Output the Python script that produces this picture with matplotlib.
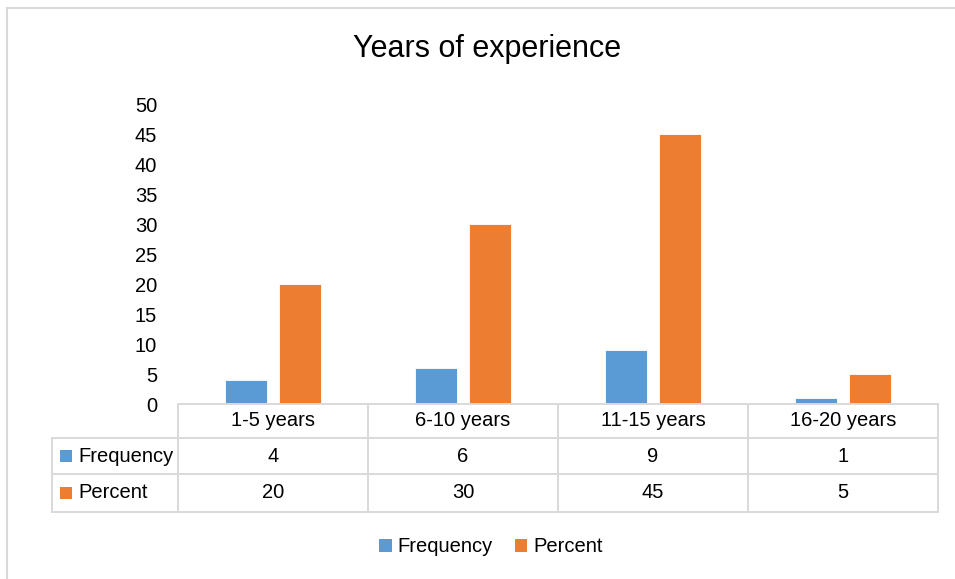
import matplotlib
matplotlib.use('Agg')
import matplotlib.pyplot as plt
from matplotlib.patches import Rectangle
import matplotlib.transforms as mtrans

categories = ['1-5 years', '6-10 years', '11-15 years', '16-20 years']
series_names = ['Frequency', 'Percent']
frequency = [4, 6, 9, 1]
percent = [20, 30, 45, 5]
yticks = [0, 5, 10, 15, 20, 25, 30, 35, 40, 45, 50]

colors = ['#5B9BD5', '#ED7D31']
grid_col = '#d9d9d9'
fs = 14.5

plt.rcParams['font.family'] = ['Liberation Sans', 'DejaVu Sans']

W, H = 955, 579
fig = plt.figure(figsize=(W / 100, H / 100), dpi=100)

def fx(px):
    return px / W

def fy(py):
    return 1 - py / H

# chart frame (cut off at right and bottom like the reference)
fig.patches.append(Rectangle((fx(7), fy(H + 20)), fx(W + 20), fy(8) - fy(H + 20),
                             transform=fig.transFigure, fill=False,
                             edgecolor=grid_col, lw=1.5))

ax = fig.add_axes([fx(178), fy(404), fx(938) - fx(178), fy(104) - fy(404)])
x = list(range(len(categories)))
bw = 0.226
off = 0.142
ax.bar([i - off for i in x], frequency, bw, color=colors[0], edgecolor='white', linewidth=0.6)
ax.bar([i + off for i in x], percent, bw, color=colors[1], edgecolor='white', linewidth=0.6)
ax.set_xlim(-0.5, len(categories) - 0.5)
ax.set_ylim(0, 50)
ax.set_yticks(yticks)
ax.set_yticklabels([str(v) for v in yticks], fontsize=fs)
ax.tick_params(axis='y', length=0, pad=15)
ax.set_xticks([])
for s in ax.spines.values():
    s.set_visible(False)

# data table under the plot
tr = mtrans.blended_transform_factory(ax.transData, ax.transAxes)
px_per_unit = 190.0
def dx(px):
    return -0.5 + (px - 178) / px_per_unit
def ay(py):
    return (404 - py) / 300.0

rows_y = [ay(404), ay(438), ay(474), ay(512)]
x_left = dx(52)
lw = 1.4
ax.plot([-0.5, 3.5], [rows_y[0]] * 2, color=grid_col, lw=lw, transform=tr, clip_on=False)
for yy in rows_y[1:]:
    ax.plot([x_left, 3.5], [yy] * 2, color=grid_col, lw=lw, transform=tr, clip_on=False)
ax.plot([x_left, x_left], [rows_y[1], rows_y[3]], color=grid_col, lw=lw, transform=tr, clip_on=False)
for xv in [-0.5, 0.5, 1.5, 2.5, 3.5]:
    ax.plot([xv, xv], [rows_y[0], rows_y[3]], color=grid_col, lw=lw, transform=tr, clip_on=False)

row_mid = [(rows_y[0] + rows_y[1]) / 2, (rows_y[1] + rows_y[2]) / 2, (rows_y[2] + rows_y[3]) / 2]
for i, c in enumerate(categories):
    ax.text(i, row_mid[0], c, ha='center', va='center', fontsize=fs, transform=tr)
    ax.text(i, row_mid[1], str(frequency[i]), ha='center', va='center', fontsize=fs, transform=tr)
    ax.text(i, row_mid[2], str(percent[i]), ha='center', va='center', fontsize=fs, transform=tr)

for k, name in enumerate(series_names):
    ym = row_mid[k + 1]
    ax.add_patch(Rectangle((dx(60), ym - 6 / 300), 12 / px_per_unit, 12 / 300,
                           facecolor=colors[k], edgecolor='none', transform=tr, clip_on=False))
    ax.text(dx(78), ym, name, ha='left', va='center', fontsize=fs, transform=tr)

# title
fig.text(fx(487), fy(57), 'Years of experience', ha='center', va='baseline', fontsize=22)

# legend
handles = [Rectangle((0, 0), 1, 1, facecolor=c, edgecolor='none') for c in colors]
fig.legend(handles, series_names, loc='center', bbox_to_anchor=(fx(491), fy(547)),
           ncol=2, frameon=False, fontsize=fs, handlelength=0.6, handleheight=0.6,
           handletextpad=0.3, columnspacing=1.1)

fig.savefig('out.png', dpi=100, facecolor='white')
